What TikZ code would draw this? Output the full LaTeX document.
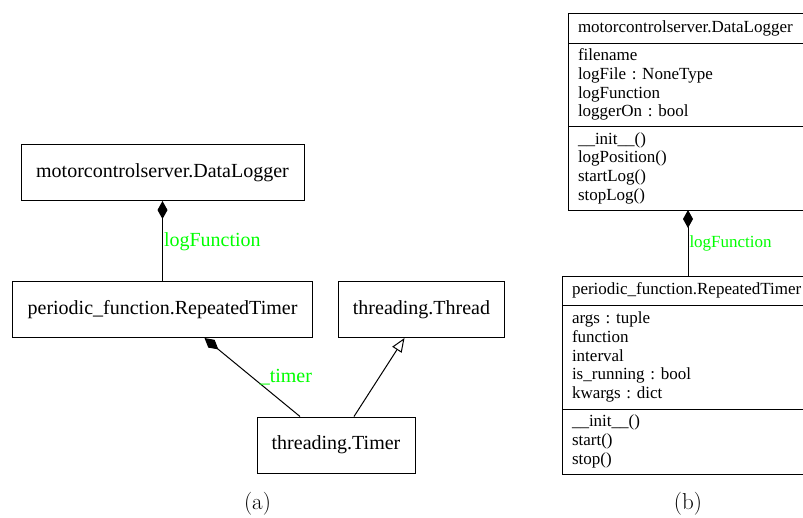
\documentclass[tikz,border=0pt]{standalone}
\usepackage{fontspec}
\usepackage{tikz}
\usetikzlibrary{arrows.meta,positioning}
\newfontfamily\umlfont{Liberation Serif}
\definecolor{rolegreen}{RGB}{0,255,0}
\tikzstyle{classbox} = [rectangle, draw=black, line width=1pt, minimum height=56pt, inner sep=0pt, font=\umlfont\fontsize{20}{24}\selectfont]
\tikzstyle{section} = [rectangle, draw=black, line width=1pt, outer sep=0pt, inner xsep=10pt, inner ysep=0pt, align=left, font=\umlfont\fontsize{17}{18.7}\selectfont]
\tikzstyle{comp} = [line width=1pt, -{Diamond[length=18pt,width=10pt]}]
\tikzstyle{inherit} = [line width=1pt, -{Triangle[open,length=14pt,width=11pt]}]
\tikzstyle{role} = [text=rolegreen, inner sep=1pt, anchor=west]
\tikzstyle{caption} = [font=\fontsize{23}{27}\selectfont]

\begin{document}
\frenchspacing
\begin{tikzpicture}[x=1pt, y=-1pt]
\clip (0,0) rectangle (803,517);
% (a) class overview
\node (dlBox) [classbox, minimum width=283pt] at (162.5,172.5) {motorcontrolserver.DataLogger};
\node (rtBox) [classbox, minimum width=300pt, below=80pt of dlBox] {periodic\_function.RepeatedTimer};
\node (thBox) [classbox, minimum width=166pt, right=25pt of rtBox] {threading.Thread};
\node (tmBox) [classbox, minimum width=158pt] at (336,445) {threading.Timer};

\draw[comp] (rtBox.north) -- (rtBox.north |- dlBox.south)
  node[role, pos=0.49, font=\umlfont\fontsize{20}{24}\selectfont] {logFunction};
\draw[comp] ([xshift=-36pt]tmBox.north) -- ([xshift=42pt]rtBox.south)
  node[role, pos=0.5, xshift=6pt, font=\umlfont\fontsize{20}{24}\selectfont] {\_timer};
\draw[inherit] ([xshift=18pt]tmBox.north) -- ([xshift=-17pt]thBox.south);

\node (capA) [caption] at (257.5,504) {(a)};

% (b) detailed classes
\node (dlHead) [section, text width=220pt, minimum height=30pt, anchor=north west] at (568,13) {\mbox{motorcontrolserver.DataLogger}};
\node (dlAttr) [section, text width=220pt, minimum height=83pt, below=0pt of dlHead] {filename\\logFile : NoneType\\logFunction\\loggerOn : bool};
\node (dlMeth) [section, text width=220pt, minimum height=84pt, below=0pt of dlAttr] {\_\_init\_\_()\\logPosition()\\startLog()\\stopLog()};

\node (rtHead) [section, text width=232pt, minimum height=29pt, below=66pt of dlMeth] {\mbox{periodic\_function.RepeatedTimer}};
\node (rtAttr) [section, text width=232pt, minimum height=104pt, below=0pt of rtHead] {args : tuple\\function\\interval\\is\_running : bool\\kwargs : dict};
\node (rtMeth) [section, text width=232pt, minimum height=65pt, below=0pt of rtAttr] {\_\_init\_\_()\\start()\\stop()};

\draw[comp] (rtHead.north) -- (dlMeth.south)
  node[role, pos=0.5, font=\umlfont\fontsize{17}{20}\selectfont] {logFunction};

\node (capB) [caption] at (688,504) {(b)};
\end{tikzpicture}
\end{document}
